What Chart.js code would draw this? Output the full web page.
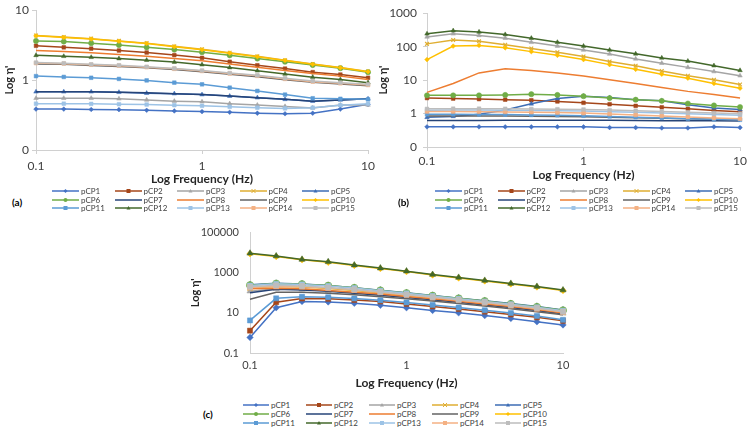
<!DOCTYPE html>
<html>
<head>
<meta charset="utf-8">
<script src="https://cdn.jsdelivr.net/npm/chart.js@4.4.0/dist/chart.umd.min.js"></script>
<style>
  body { margin: 0; background: #fff; font-family: Lato, sans-serif; }
  #wrap { position: relative; width: 750px; height: 428px; overflow: hidden; background: #fff; }
  canvas { position: absolute; }
  .leg { position: absolute; display: flex; align-items: center; color: #404040; white-space: nowrap; height: 10px; }
  .leg svg { display: block; }
  .tag { position: absolute; font-weight: bold; color: #000; font-size: 10px; }
</style>
</head>
<body>
<div id="wrap">
  <canvas id="chartA" width="380" height="190" style="left:0;top:0"></canvas>
  <canvas id="chartB" width="375" height="190" style="left:375px;top:0"></canvas>
  <canvas id="chartC" width="400" height="178" style="left:180px;top:215px"></canvas>
  <div class="tag" style="left:12px;top:196px">(a)</div>
  <div class="tag" style="left:398px;top:196px">(b)</div>
  <div class="tag" style="left:203px;top:408px">(c)</div>
</div>
<script>
// shared x values (Hz) and series styling
const freq = [0.1, 0.147, 0.215, 0.316, 0.464, 0.681, 1, 1.468, 2.154, 3.162, 4.642, 6.813, 10];
const names = ['pCP1', 'pCP2', 'pCP3', 'pCP4', 'pCP5', 'pCP6', 'pCP7', 'pCP8', 'pCP9', 'pCP10',
               'pCP11', 'pCP12', 'pCP13', 'pCP14', 'pCP15'];
const colors = ['#4472C4', '#A5461A', '#A5A5A5', '#DFAE32', '#3D6DB5', '#70AD47', '#264478', '#ED7D31',
                '#636363', '#FFC000', '#5B9BD5', '#43682B', '#9DC3E6', '#F4B183', '#BDBDBD'];
const markers = ['rectRot', 'rect', 'triangle', 'crossRot', 'triangle', 'circle', 'line', 'line',
                 'line', 'rectRot', 'rect', 'triangle', 'rect', 'rect', 'rect'];

// (a)
const aP1 = [0.385, 0.385, 0.38, 0.378, 0.37, 0.362, 0.354, 0.347, 0.336, 0.33, 0.336, 0.385, 0.45];
const aP2 = [3.10, 2.94, 2.82, 2.65, 2.48, 2.28, 2.08, 1.83, 1.63, 1.46, 1.30, 1.20, 1.08];
const aP3 = [0.55, 0.55, 0.55, 0.54, 0.52, 0.50, 0.49, 0.46, 0.44, 0.42, 0.40, 0.44, 0.44];
const aP4 = [4.36, 4.13, 3.92, 3.64, 3.38, 3.04, 2.76, 2.46, 2.19, 1.93, 1.70, 1.51, 1.33];
const aP5 = [0.68, 0.68, 0.68, 0.67, 0.65, 0.64, 0.62, 0.59, 0.56, 0.53, 0.50, 0.52, 0.54];
const aP6 = [3.64, 3.56, 3.38, 3.17, 2.94, 2.73, 2.51, 2.26, 2.03, 1.83, 1.64, 1.48, 1.30];
const aP7 = [0.68, 0.68, 0.68, 0.67, 0.66, 0.64, 0.62, 0.59, 0.56, 0.53, 0.50, 0.52, 0.54];
const aP8 = [2.65, 2.57, 2.46, 2.33, 2.19, 2.03, 1.89, 1.70, 1.53, 1.37, 1.24, 1.14, 1.02];
const aP9 = [1.70, 1.68, 1.62, 1.57, 1.50, 1.42, 1.32, 1.21, 1.12, 1.01, 0.93, 0.88, 0.83];
const aP10 = [4.30, 4.08, 3.87, 3.60, 3.34, 3.00, 2.72, 2.43, 2.16, 1.91, 1.68, 1.50, 1.32];
const aP11 = [1.14, 1.11, 1.08, 1.04, 0.99, 0.92, 0.87, 0.78, 0.70, 0.62, 0.55, 0.54, 0.53];
const aP12 = [2.26, 2.19, 2.12, 2.03, 1.93, 1.81, 1.66, 1.51, 1.36, 1.22, 1.10, 1.02, 0.92];
const aP13 = [0.46, 0.46, 0.457, 0.452, 0.447, 0.438, 0.429, 0.415, 0.403, 0.394, 0.403, 0.438, 0.46];
const aP14 = [1.75, 1.72, 1.66, 1.61, 1.53, 1.45, 1.35, 1.24, 1.15, 1.04, 0.95, 0.90, 0.85];
const aP15 = [1.78, 1.74, 1.68, 1.63, 1.55, 1.47, 1.37, 1.26, 1.17, 1.06, 0.97, 0.92, 0.87];

// (b)
const bP1 = [0.40, 0.40, 0.40, 0.40, 0.40, 0.40, 0.40, 0.38, 0.38, 0.37, 0.37, 0.40, 0.38];
const bP2 = [2.9, 2.8, 2.7, 2.6, 2.5, 2.3, 2.1, 1.9, 1.7, 1.54, 1.38, 1.24, 1.14];
const bP3 = [195, 242, 217, 179, 135, 104, 79, 60, 43, 32, 24, 18, 13.5];
const bP4 = [121, 157, 144, 114, 88, 68, 51, 36, 27, 18.7, 13.5, 10.2, 7.4];
const bP5 = [0.77, 0.82, 0.96, 1.27, 1.95, 2.8, 3.3, 3.0, 2.6, 2.4, 1.83, 1.47, 1.32];
const bP6 = [3.5, 3.5, 3.5, 3.6, 3.8, 3.6, 3.3, 2.9, 2.6, 2.4, 2.0, 1.75, 1.57];
const bP7 = [0.62, 0.62, 0.62, 0.63, 0.63, 0.63, 0.63, 0.63, 0.62, 0.61, 0.61, 0.61, 0.60];
const bP8 = [4.3, 7.9, 16.4, 21.7, 19.5, 16.4, 13.2, 10.2, 7.9, 6.0, 4.6, 3.7, 2.9];
const bP9 = [0.85, 0.85, 0.85, 0.84, 0.83, 0.82, 0.80, 0.78, 0.75, 0.72, 0.70, 0.68, 0.66];
const bP10 = [41, 104, 109, 92, 71, 55, 41, 29, 21, 15, 11.4, 7.9, 5.7];
const bP11 = [0.95, 0.95, 0.94, 0.93, 0.91, 0.89, 0.86, 0.82, 0.78, 0.74, 0.70, 0.67, 0.65];
const bP12 = [242, 300, 275, 231, 179, 135, 104, 79, 61, 46, 37, 27, 19.5];
const bP13 = [1.25, 1.27, 1.27, 1.26, 1.24, 1.22, 1.19, 1.14, 1.09, 1.04, 0.98, 0.93, 0.89];
const bP14 = [1.15, 1.15, 1.14, 1.12, 1.10, 1.07, 1.03, 0.97, 0.91, 0.85, 0.79, 0.74, 0.70];
const bP15 = [1.38, 1.40, 1.40, 1.39, 1.37, 1.35, 1.32, 1.27, 1.21, 1.15, 1.09, 1.04, 0.99];

// (c)
const cP1 = [0.6, 18, 37, 35, 30, 24, 18, 13.2, 10, 7.3, 5.3, 3.6, 2.5];
const cP2 = [1.3, 34, 52, 50, 44, 37, 28, 21, 15.5, 11.5, 8.3, 6.0, 4.0];
const cP3 = [120, 160, 150, 128, 104, 82, 63, 48, 36, 27, 20, 14, 9.5];
const cP4 = [175, 205, 195, 165, 130, 100, 74, 55, 41, 30, 22, 15.5, 10.5];
const cP5 = [250, 295, 275, 231, 181, 135, 100, 74, 54, 40, 29, 21, 14];
const cP6 = [240, 290, 270, 228, 178, 132, 97, 72, 53, 39, 28, 20, 13.5];
const cP7 = [100, 150, 137, 118, 96, 76, 59, 45, 34, 25, 18.5, 13, 9];
const cP8 = [160, 170, 158, 132, 108, 86, 66, 50, 38, 28, 20.5, 14.5, 9.8];
const cP9 = [48, 107, 105, 95, 80, 64, 50, 39, 29, 22, 16, 11.5, 8];
const cP10 = [8800, 6400, 4400, 3300, 2300, 1620, 1140, 770, 550, 390, 275, 195, 130];
const cP11 = [4.2, 53, 64, 60, 52, 42, 33, 25, 18.5, 13.5, 9.8, 7.0, 4.5];
const cP12 = [9300, 6800, 4600, 3500, 2400, 1700, 1200, 810, 580, 410, 290, 205, 137];
const cP13 = [230, 280, 262, 220, 172, 128, 94, 70, 51, 37, 27, 19, 12.8];
const cP14 = [185, 215, 205, 175, 140, 105, 78, 58, 43, 32, 23, 16, 11];
const cP15 = [200, 235, 218, 182, 145, 110, 82, 61, 45, 34, 25, 17.5, 11.5];

const seriesA = [aP1, aP2, aP3, aP4, aP5, aP6, aP7, aP8, aP9, aP10, aP11, aP12, aP13, aP14, aP15];
const seriesB = [bP1, bP2, bP3, bP4, bP5, bP6, bP7, bP8, bP9, bP10, bP11, bP12, bP13, bP14, bP15];
const seriesC = [cP1, cP2, cP3, cP4, cP5, cP6, cP7, cP8, cP9, cP10, cP11, cP12, cP13, cP14, cP15];

const xTicks = [0.1, 1, 10];
const yTicksA = [0.1, 1, 10];
const yTicksB = [0.1, 1, 10, 100, 1000];
const yTicksC = [0.1, 10, 1000, 100000];

Chart.defaults.font.family = 'Lato, sans-serif';
Chart.defaults.color = '#404040';

function makeChart(id, series, cfg) {
  return new Chart(document.getElementById(id), {
    type: 'line',
    data: {
      datasets: series.map((vals, i) => ({
        label: names[i],
        data: vals.map((v, k) => ({ x: freq[k], y: v })),
        borderColor: colors[i],
        backgroundColor: colors[i],
        borderWidth: cfg.lw,
        pointStyle: markers[i],
        pointRadius: markers[i] === 'line' ? 0 : (markers[i] === 'rectRot' ? cfg.r * 0.9 : cfg.r),
        pointBorderWidth: markers[i] === 'crossRot' ? 1.2 : 0.5,
        pointHoverRadius: 0,
        tension: 0,
        clip: false,
        order: series.length - i
      }))
    },
    options: {
      responsive: false,
      animation: false,
      devicePixelRatio: 1,
      events: [],
      layout: { padding: cfg.pad },
      plugins: { legend: { display: false }, tooltip: { enabled: false } },
      scales: {
        x: {
          type: 'logarithmic', min: 0.1, max: 10,
          afterBuildTicks: s => { s.ticks = xTicks.map(v => ({ value: v })); },
          afterFit: s => { s.height = cfg.xH; },
          ticks: { callback: v => String(v), font: { size: cfg.tick }, padding: cfg.xTickPad, maxRotation: 0, autoSkip: false },
          grid: { display: true, drawOnChartArea: false, drawTicks: cfg.drawTicks, tickLength: 4, color: '#d0d0d0' },
          border: { display: true, color: '#d0d0d0' },
          title: { display: true, text: 'Log Frequency (Hz)', font: { size: 12, weight: 'bold' }, color: '#262626',
                   padding: { top: 0, bottom: cfg.xTitlePad } }
        },
        y: {
          type: 'logarithmic', min: cfg.yMin, max: cfg.yMax,
          afterBuildTicks: s => { s.ticks = cfg.yTicks.map(v => ({ value: v })); },
          afterFit: s => { s.width = cfg.yW; },
          ticks: { callback: cfg.yLabel, font: { size: cfg.tick }, padding: cfg.yTickPad, autoSkip: false },
          grid: { display: true, drawOnChartArea: false, drawTicks: cfg.drawTicks, tickLength: 4, color: '#d0d0d0' },
          border: { display: true, color: '#d0d0d0' },
          title: { display: true, text: "Log η'", font: { size: 11, weight: 'bold' }, color: '#262626',
                   padding: { top: cfg.yTitlePad, bottom: 0 } }
        }
      }
    }
  });
}

const zeroLabel = v => (v < 1 ? '0' : String(v));

makeChart('chartA', seriesA, {
  lw: 1.5, r: 2.6, pad: { top: 5, right: 10, bottom: 0, left: 0 },
  xH: 40, yW: 36, tick: 12, xTickPad: 5, yTickPad: 3, xTitlePad: 4, yTitlePad: 3, drawTicks: true,
  yMin: 0.1, yMax: 10, yTicks: yTicksA, yLabel: zeroLabel
});
makeChart('chartB', seriesB, {
  lw: 1.5, r: 2.6, pad: { top: 5, right: 6, bottom: 0, left: 0 },
  xH: 43, yW: 52, tick: 12, xTickPad: 3, yTickPad: 6, xTitlePad: 8, yTitlePad: 2, drawTicks: true,
  yMin: 0.1, yMax: 1000, yTicks: yTicksB, yLabel: zeroLabel
});
makeChart('chartC', seriesC, {
  lw: 1.5, r: 3.6, pad: { top: 8, right: 17, bottom: 0, left: 0 },
  xH: 40, yW: 70, tick: 11, xTickPad: 6, yTickPad: 11, xTitlePad: 3, yTitlePad: 9, drawTicks: false,
  yMin: 0.1, yMax: 100000, yTicks: yTicksC, yLabel: v => String(v)
});

// HTML legends (5 columns x 3 rows)
function markerSvg(style, c, cx, cy, r) {
  if (style === 'rect') return `<rect x="${cx - r}" y="${cy - r}" width="${2 * r}" height="${2 * r}" fill="${c}"/>`;
  if (style === 'rectRot') return `<polygon points="${cx},${cy - r} ${cx + r},${cy} ${cx},${cy + r} ${cx - r},${cy}" fill="${c}"/>`;
  if (style === 'triangle') return `<polygon points="${cx},${cy - r} ${cx + r},${cy + r * 0.8} ${cx - r},${cy + r * 0.8}" fill="${c}"/>`;
  if (style === 'circle') return `<circle cx="${cx}" cy="${cy}" r="${r}" fill="${c}"/>`;
  if (style === 'crossRot') return `<path d="M${cx - r} ${cy - r}L${cx + r} ${cy + r}M${cx - r} ${cy + r}L${cx + r} ${cy - r}" stroke="${c}" stroke-width="1"/>`;
  return '';
}

function buildLegend(x0, y0, colGap, rowGap, lineW, fontSize, r) {
  const wrap = document.getElementById('wrap');
  names.forEach((name, i) => {
    const col = i % 5, row = Math.floor(i / 5);
    const item = document.createElement('div');
    item.className = 'leg';
    item.style.left = (x0 + col * colGap) + 'px';
    item.style.top = (y0 + row * rowGap - 5) + 'px';
    item.style.fontSize = fontSize + 'px';
    const svg = `<svg width="${lineW}" height="10"><line x1="0" y1="5" x2="${lineW}" y2="5" stroke="${colors[i]}" stroke-width="1.5"/>` +
      markerSvg(markers[i], colors[i], lineW / 2, 5, r) + '</svg>';
    item.innerHTML = svg + `<span style="margin-left:2px">${name}</span>`;
    wrap.appendChild(item);
  });
}

buildLegend(52, 191, 62.5, 8.5, 27, 8, 2);
buildLegend(435, 191, 62.5, 8.5, 27, 8, 2);
buildLegend(243, 405, 63, 9.2, 26, 8, 2);
</script>
</body>
</html>
